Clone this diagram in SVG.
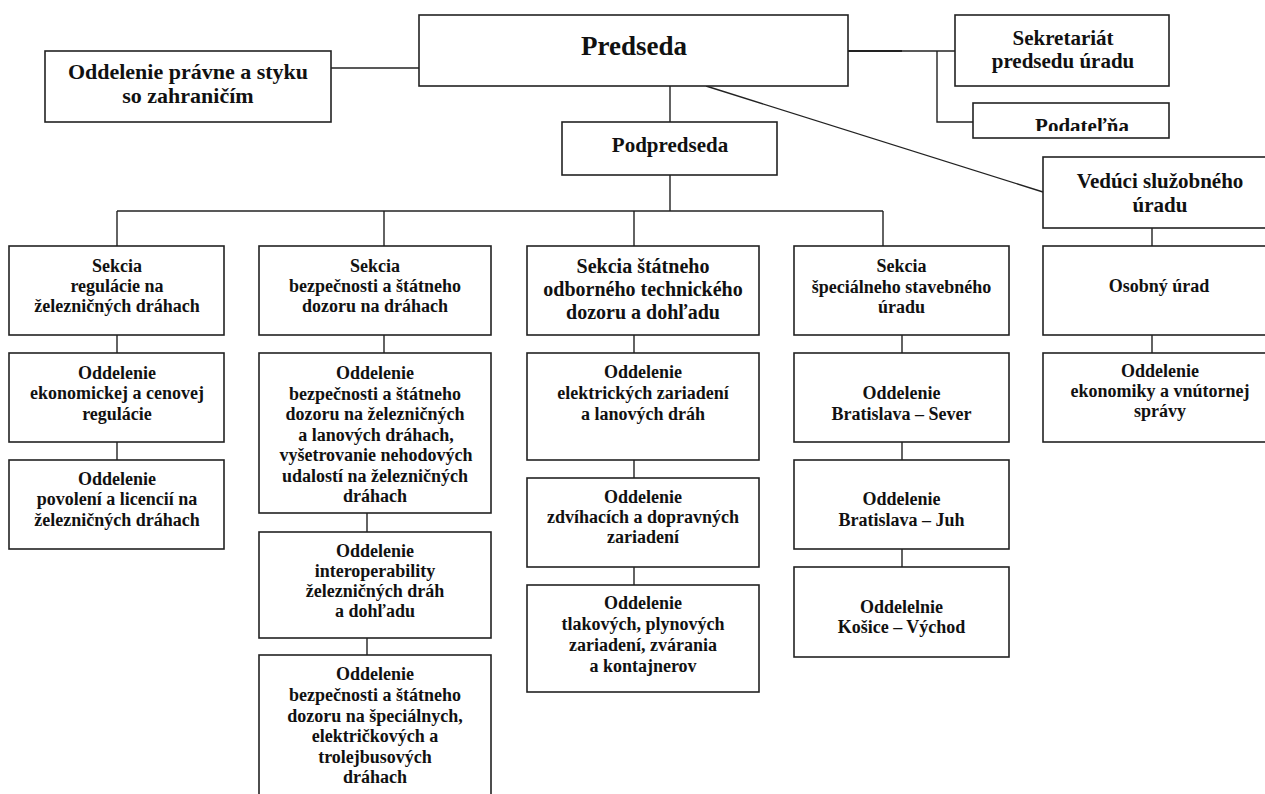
<svg xmlns="http://www.w3.org/2000/svg" width="1265" height="794" viewBox="0 0 1265 794" font-family="'Liberation Serif', 'DejaVu Serif', 'Times New Roman', Times, serif">
<style>
.b{fill:#fff;stroke:#222;stroke-width:1.6}
.c{stroke:#222;stroke-width:1.4;fill:none}
text{font-family:'Liberation Serif','DejaVu Serif','Times New Roman',Times,serif;font-weight:bold;fill:#111;text-anchor:middle}
.s18{font-size:18px}
.s20{font-size:20px}
.s21{font-size:21px}
.s22{font-size:22px}
.s27{font-size:27px}
</style>
<defs>
<clipPath id="clipPod"><rect x="973" y="103" width="196" height="28"/></clipPath>
</defs>
<rect width="1265" height="794" fill="#fff"/>
<g id="connectors">
<line class="c" x1="331" y1="68" x2="419" y2="68"/>
<line class="c" x1="848" y1="51" x2="955" y2="51"/>
<line x1="848" y1="51" x2="902" y2="51" stroke="#222" stroke-width="2"/>
<polyline class="c" points="937,51 937,122 973,122"/>
<line class="c" x1="706" y1="86" x2="1043" y2="192"/>
<line class="c" x1="670" y1="86" x2="670" y2="122"/>
<line class="c" x1="670" y1="175" x2="670" y2="211"/>
<line class="c" x1="117" y1="211" x2="883" y2="211"/>
<line class="c" x1="117" y1="211" x2="117" y2="246"/>
<line class="c" x1="384" y1="211" x2="384" y2="246"/>
<line class="c" x1="634" y1="211" x2="634" y2="246"/>
<line class="c" x1="883" y1="211" x2="883" y2="246"/>
<line class="c" x1="117" y1="335" x2="117" y2="353"/>
<line class="c" x1="117" y1="442" x2="117" y2="460"/>
<line class="c" x1="384" y1="335" x2="384" y2="353"/>
<line class="c" x1="367" y1="513" x2="367" y2="532"/>
<line class="c" x1="367" y1="638" x2="367" y2="655"/>
<line class="c" x1="634" y1="335" x2="634" y2="353"/>
<line class="c" x1="634" y1="460" x2="634" y2="478"/>
<line class="c" x1="634" y1="567" x2="634" y2="585"/>
<line class="c" x1="902" y1="335" x2="902" y2="353"/>
<line class="c" x1="902" y1="442" x2="902" y2="460"/>
<line class="c" x1="902" y1="549" x2="902" y2="567"/>
<line class="c" x1="1152" y1="228" x2="1152" y2="246"/>
<line class="c" x1="1152" y1="335" x2="1152" y2="353"/>
</g>
<g id="predseda">
<rect class="b" x="419" y="15" width="429" height="71"/>
<text class="s27" x="634" y="55">Predseda</text>
</g>
<g id="oddelenie-pravne">
<rect class="b" x="45" y="51" width="286" height="71"/>
<text class="s22" x="188" y="79">Oddelenie právne a styku</text>
<text class="s22" x="188" y="103">so zahraničím</text>
</g>
<g id="sekretariat">
<rect class="b" x="955" y="15" width="214" height="71"/>
<text class="s21" x="1063" y="45">Sekretariát</text>
<text class="s21" x="1063" y="68">predsedu úradu</text>
</g>
<g id="podatelna">
<rect class="b" x="973" y="103" width="196" height="35"/>
<text class="s21" x="1082" y="133" clip-path="url(#clipPod)">Podateľňa</text>
</g>
<g id="podpredseda">
<rect class="b" x="562" y="122" width="215" height="53"/>
<text class="s21" x="670" y="152">Podpredseda</text>
</g>
<g id="veduci">
<rect class="b" x="1043" y="157" width="234" height="71"/>
<text class="s21" x="1160" y="188">Vedúci služobného</text>
<text class="s21" x="1160" y="212">úradu</text>
</g>
<g id="osobny-urad">
<rect class="b" x="1043" y="246" width="234" height="89"/>
<text class="s18" x="1159" y="292">Osobný úrad</text>
</g>
<g id="odd-ekonomiky">
<rect class="b" x="1043" y="353" width="234" height="89"/>
<text class="s18" x="1160" y="377">Oddelenie</text>
<text class="s18" x="1160" y="397">ekonomiky a vnútornej</text>
<text class="s18" x="1160" y="417">správy</text>
</g>
<g id="sekcia-regulacie">
<rect class="b" x="9" y="246" width="215" height="89"/>
<text class="s18" x="117" y="272">Sekcia</text>
<text class="s18" x="117" y="292">regulácie na</text>
<text class="s18" x="117" y="312">železničných dráhach</text>
</g>
<g id="odd-ekonomickej">
<rect class="b" x="9" y="353" width="215" height="89"/>
<text class="s18" x="117" y="379">Oddelenie</text>
<text class="s18" x="117" y="399">ekonomickej a cenovej</text>
<text class="s18" x="117" y="420">regulácie</text>
</g>
<g id="odd-povoleni">
<rect class="b" x="9" y="460" width="215" height="89"/>
<text class="s18" x="117" y="485">Oddelenie</text>
<text class="s18" x="117" y="505">povolení a licencií na</text>
<text class="s18" x="117" y="526">železničných dráhach</text>
</g>
<g id="sekcia-bezpecnosti">
<rect class="b" x="259" y="246" width="232" height="89"/>
<text class="s18" x="375" y="272">Sekcia</text>
<text class="s18" x="375" y="292">bezpečnosti a štátneho</text>
<text class="s18" x="375" y="312">dozoru na dráhach</text>
</g>
<g id="odd-bezpecnosti-zel">
<rect class="b" x="259" y="353" width="232" height="160"/>
<text class="s18" x="375" y="379">Oddelenie</text>
<text class="s18" x="375" y="399.5">bezpečnosti a štátneho</text>
<text class="s18" x="375" y="420">dozoru na železničných</text>
<text class="s18" x="376" y="440.5">a lanových dráhach,</text>
<text class="s18" x="376" y="461">vyšetrovanie nehodových</text>
<text class="s18" x="375" y="481.5">udalostí na železničných</text>
<text class="s18" x="375" y="502">dráhach</text>
</g>
<g id="odd-interoperability">
<rect class="b" x="259" y="532" width="232" height="106"/>
<text class="s18" x="375" y="557">Oddelenie</text>
<text class="s18" x="375" y="577">interoperability</text>
<text class="s18" x="375" y="597">železničných dráh</text>
<text class="s18" x="375" y="617">a dohľadu</text>
</g>
<g id="odd-bezpecnosti-spec">
<rect class="b" x="259" y="655" width="232" height="160"/>
<text class="s18" x="375" y="680">Oddelenie</text>
<text class="s18" x="375" y="701">bezpečnosti a štátneho</text>
<text class="s18" x="375" y="721.5">dozoru na špeciálnych,</text>
<text class="s18" x="375" y="742">električkových a</text>
<text class="s18" x="375" y="762.5">trolejbusových</text>
<text class="s18" x="375" y="783">dráhach</text>
</g>
<g id="sekcia-statneho">
<rect class="b" x="527" y="246" width="232" height="89"/>
<text class="s20" x="643" y="272.5">Sekcia štátneho</text>
<text class="s20" x="643" y="295.5">odborného technického</text>
<text class="s20" x="643" y="318.5">dozoru a dohľadu</text>
</g>
<g id="odd-elektrickych">
<rect class="b" x="527" y="353" width="232" height="107"/>
<text class="s18" x="643" y="378">Oddelenie</text>
<text class="s18" x="643" y="399">elektrických zariadení</text>
<text class="s18" x="643" y="420">a lanových dráh</text>
</g>
<g id="odd-zdvihacich">
<rect class="b" x="527" y="478" width="232" height="89"/>
<text class="s18" x="643" y="503">Oddelenie</text>
<text class="s18" x="643" y="523">zdvíhacích a dopravných</text>
<text class="s18" x="643" y="543">zariadení</text>
</g>
<g id="odd-tlakovych">
<rect class="b" x="527" y="585" width="232" height="107"/>
<text class="s18" x="643" y="609">Oddelenie</text>
<text class="s18" x="643" y="630">tlakových, plynových</text>
<text class="s18" x="643" y="651">zariadení, zvárania</text>
<text class="s18" x="643" y="672">a kontajnerov</text>
</g>
<g id="sekcia-specialneho">
<rect class="b" x="794" y="246" width="215" height="89"/>
<text class="s18" x="901.5" y="272">Sekcia</text>
<text class="s18" x="901.5" y="293">špeciálneho stavebného</text>
<text class="s18" x="901.5" y="313">úradu</text>
</g>
<g id="odd-ba-sever">
<rect class="b" x="794" y="353" width="215" height="89"/>
<text class="s18" x="901.5" y="399">Oddelenie</text>
<text class="s18" x="901.5" y="420">Bratislava – Sever</text>
</g>
<g id="odd-ba-juh">
<rect class="b" x="794" y="460" width="215" height="89"/>
<text class="s18" x="901.5" y="505">Oddelenie</text>
<text class="s18" x="901.5" y="526">Bratislava – Juh</text>
</g>
<g id="odd-kosice">
<rect class="b" x="794" y="567" width="215" height="90"/>
<text class="s18" x="901.5" y="613">Oddelelnie</text>
<text class="s18" x="901.5" y="633">Košice – Východ</text>
</g>
</svg>
